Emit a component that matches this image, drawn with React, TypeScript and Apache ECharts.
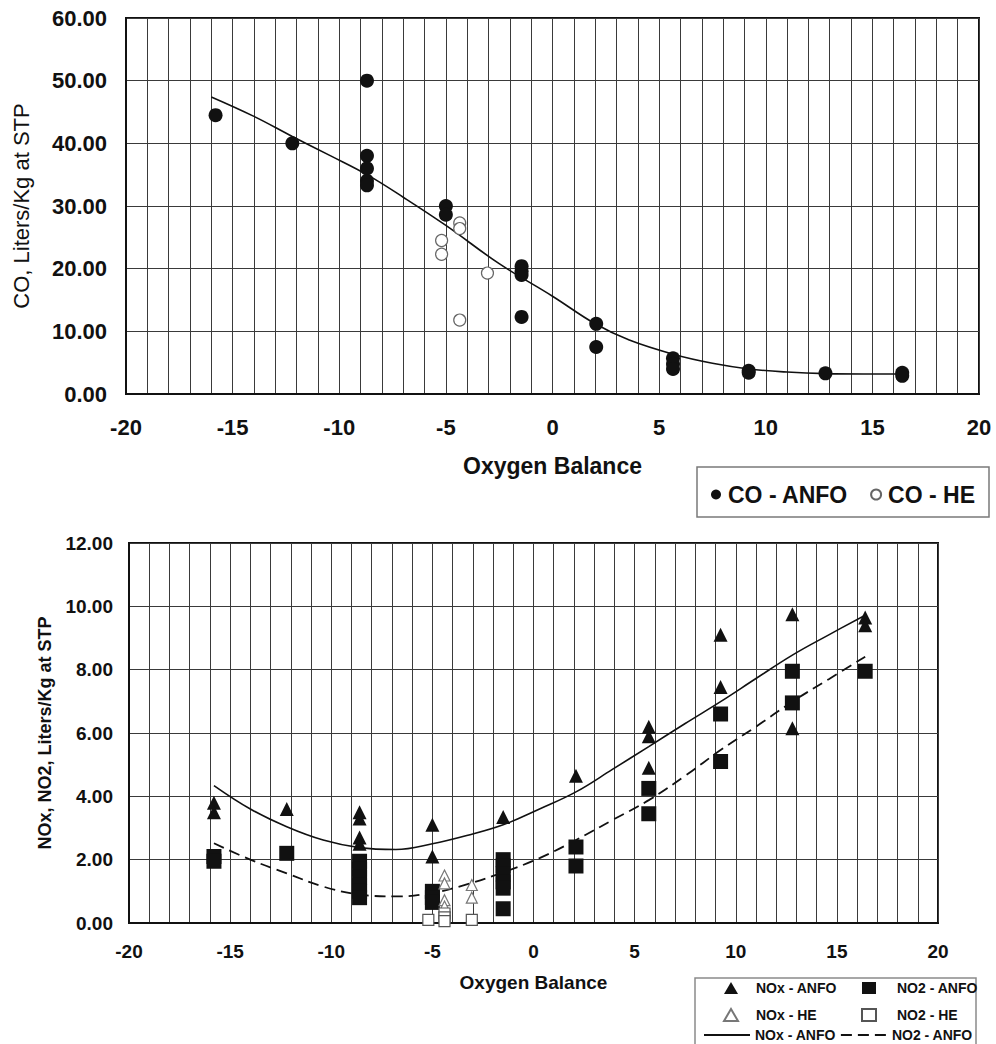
import React, { useEffect, useRef } from "react";
import * as echarts from "echarts";

// ---------- Data ----------
// Top chart: CO, Liters/Kg at STP vs Oxygen Balance
const coAnfo: [number, number][] = [
  [-15.8, 44.5],
  [-12.2, 40.0],
  [-8.7, 50.0],
  [-8.7, 38.0],
  [-8.7, 36.0],
  [-8.7, 34.0],
  [-8.7, 33.3],
  [-5.0, 30.0],
  [-5.0, 28.6],
  [-1.45, 20.4],
  [-1.45, 19.6],
  [-1.45, 19.0],
  [-1.45, 12.3],
  [2.05, 11.2],
  [2.05, 7.5],
  [5.65, 5.7],
  [5.65, 4.8],
  [5.65, 4.0],
  [9.2, 3.7],
  [9.2, 3.4],
  [12.8, 3.3],
  [16.4, 3.4],
  [16.4, 2.9],
];
const coHe: [number, number][] = [
  [-5.2, 24.5],
  [-5.2, 22.3],
  [-4.35, 27.3],
  [-4.35, 26.4],
  [-4.35, 11.8],
  [-3.05, 19.3],
];
const coFit: [number, number][] = [
  [-16, 47.4],
  [-14, 44.3],
  [-12.2, 41.1],
  [-10.4, 38.0],
  [-8.7, 35.0],
  [-7, 31.4],
  [-5, 26.9],
  [-2.5, 20.8],
  [0, 15.6],
  [2, 11.2],
  [3.6, 8.6],
  [5.7, 6.3],
  [7.5, 4.9],
  [9.2, 4.0],
  [11, 3.5],
  [12.8, 3.25],
  [14.6, 3.2],
  [16.4, 3.2],
];

// Bottom chart: NOx, NO2, Liters/Kg at STP vs Oxygen Balance
const noxAnfo: [number, number][] = [
  [-15.8, 3.8],
  [-15.8, 3.5],
  [-12.2, 3.6],
  [-8.6, 3.5],
  [-8.6, 3.3],
  [-8.6, 2.7],
  [-8.6, 2.5],
  [-5.0, 3.1],
  [-5.0, 2.1],
  [-1.5, 3.35],
  [2.1, 4.65],
  [5.7, 6.2],
  [5.7, 5.9],
  [5.7, 4.9],
  [9.25, 9.1],
  [9.25, 7.45],
  [12.8, 9.75],
  [12.8, 6.15],
  [16.4, 9.65],
  [16.4, 9.4],
];
const no2Anfo: [number, number][] = [
  [-15.8, 2.1],
  [-15.8, 1.95],
  [-12.2, 2.2],
  [-8.6, 1.95],
  [-8.6, 1.7],
  [-8.6, 1.45],
  [-8.6, 1.2],
  [-8.6, 1.0],
  [-8.6, 0.8],
  [-5.0, 1.0],
  [-5.0, 0.8],
  [-5.0, 0.65],
  [-1.5, 2.0],
  [-1.5, 1.8],
  [-1.5, 1.55],
  [-1.5, 1.3],
  [-1.5, 1.1],
  [-1.5, 0.45],
  [2.1, 2.4],
  [2.1, 1.8],
  [5.7, 4.25],
  [5.7, 3.45],
  [9.25, 6.6],
  [9.25, 5.1],
  [12.8, 7.95],
  [12.8, 6.95],
  [16.4, 7.95],
];
const noxHe: [number, number][] = [
  [-4.4, 1.5],
  [-4.4, 1.25],
  [-4.4, 0.72],
  [-4.4, 0.52],
  [-3.05, 1.2],
  [-3.05, 0.8],
];
const no2He: [number, number][] = [
  [-5.2, 0.1],
  [-4.4, 0.3],
  [-4.4, 0.18],
  [-4.4, 0.06],
  [-3.05, 0.1],
];
const noxFit: [number, number][] = [
  [-15.8, 4.34],
  [-14, 3.6],
  [-12.2, 3.04],
  [-10.4, 2.62],
  [-8.6, 2.38],
  [-6.8, 2.32],
  [-5, 2.5],
  [-3.3, 2.76],
  [-1.5, 3.1],
  [0.3, 3.6],
  [2.1, 4.14],
  [3.9, 4.85],
  [5.7, 5.57],
  [7.5, 6.3],
  [9.25, 6.99],
  [11, 7.72],
  [12.8, 8.46],
  [14.6, 9.1],
  [16.4, 9.72],
];
const no2Fit: [number, number][] = [
  [-15.8, 2.52],
  [-14, 2.0],
  [-12.2, 1.57],
  [-10.4, 1.15],
  [-8.6, 0.9],
  [-6.8, 0.84],
  [-5, 0.95],
  [-3.3, 1.22],
  [-1.5, 1.6],
  [0.3, 2.05],
  [2.1, 2.62],
  [3.9, 3.25],
  [5.7, 3.88],
  [7.5, 4.65],
  [9.25, 5.46],
  [11, 6.2],
  [12.8, 6.99],
  [14.6, 7.7],
  [16.4, 8.41],
];

const xRange = { min: -20, max: 20, major: 5 };
const coRange = { min: 0, max: 60, step: 10 };
const noRange = { min: 0, max: 12, step: 2 };

const FONT = "'Liberation Sans', Arial, Helvetica, sans-serif";
const INK = "#111";
const GRIDC = "#3a3a3a";

function xAxisCfg(gridIndex: number, fontSize: number, margin: number, nameSize: number, nameGap: number) {
  return {
    type: "value",
    gridIndex,
    min: xRange.min,
    max: xRange.max,
    interval: xRange.major,
    name: "Oxygen Balance",
    nameLocation: "middle",
    nameGap,
    nameTextStyle: { fontFamily: FONT, fontSize: nameSize, fontWeight: "bold", color: INK },
    axisLine: { show: true, onZero: false, lineStyle: { color: INK, width: 2 } },
    axisTick: { show: false },
    minorTick: { show: false, splitNumber: 5 },
    splitLine: { show: true, lineStyle: { color: GRIDC, width: 1 } },
    minorSplitLine: { show: true, lineStyle: { color: GRIDC, width: 1 } },
    axisLabel: { fontFamily: FONT, fontSize, fontWeight: "bold", color: INK, margin },
  };
}

function yAxisCfg(
  gridIndex: number,
  r: { min: number; max: number; step: number },
  name: string,
  fontSize: number,
  margin: number,
  nameSize: number,
  nameWeight: string,
  nameGap: number
) {
  return {
    type: "value",
    gridIndex,
    min: r.min,
    max: r.max,
    interval: r.step,
    name,
    nameLocation: "middle",
    nameGap,
    nameTextStyle: { fontFamily: FONT, fontSize: nameSize, fontWeight: nameWeight, color: INK },
    axisLine: { show: true, onZero: false, lineStyle: { color: INK, width: 2 } },
    axisTick: { show: false },
    splitLine: { show: true, lineStyle: { color: GRIDC, width: 1 } },
    axisLabel: {
      fontFamily: FONT,
      fontSize,
      fontWeight: "bold",
      color: INK,
      margin,
      formatter: (v: number) => v.toFixed(2),
    },
  };
}

const smallLegendText = { fontFamily: FONT, fontSize: 14, fontWeight: "bold", color: INK };

export default function App() {
  const ref = useRef<HTMLDivElement>(null);

  useEffect(() => {
    if (!ref.current) return;
    const chart = echarts.init(ref.current, undefined, { renderer: "svg" });

    const option: any = {
      animation: false,
      backgroundColor: "#fff",
      grid: [
        { left: 126, top: 18, width: 853, height: 376, show: true, borderColor: INK, borderWidth: 2, backgroundColor: "#fff" },
        { left: 129, top: 543, width: 809, height: 380, show: true, borderColor: INK, borderWidth: 2, backgroundColor: "#fff" },
      ],
      xAxis: [xAxisCfg(0, 22, 22, 23, 60), xAxisCfg(1, 19, 19, 19, 50)],
      yAxis: [
        yAxisCfg(0, coRange, "CO, Liters/Kg at STP", 22, 19, 22, "normal", 94),
        yAxisCfg(1, noRange, "NOx, NO2, Liters/Kg at STP", 19, 16, 18, "bold", 75),
      ],
      graphic: [
        {
          type: "rect",
          z: 1,
          shape: { x: 697, y: 467, width: 292, height: 50 },
          style: { fill: "#fff", stroke: "#7a7a7a", lineWidth: 1.5 },
        },
        {
          type: "rect",
          z: 1,
          shape: { x: 695, y: 978, width: 281, height: 80 },
          style: { fill: "#fff", stroke: "#8a8a8a", lineWidth: 1.5 },
        },
      ],
      legend: [
        {
          data: ["CO - ANFO", "CO - HE"],
          left: 706,
          top: 478,
          orient: "horizontal",
          itemWidth: 14,
          itemHeight: 10,
          itemGap: 22,
          selectedMode: false,
          textStyle: { fontFamily: FONT, fontSize: 23, fontWeight: "bold", color: INK },
        },
        {
          data: ["NOx - ANFO", "NOx - HE"],
          left: 718,
          top: 976,
          orient: "vertical",
          itemWidth: 14,
          itemHeight: 12,
          itemGap: 13,
          selectedMode: false,
          textStyle: { ...smallLegendText, padding: [0, 0, 0, 13] },
        },
        {
          data: ["NO2 - ANFO", "NO2 - HE"],
          left: 856,
          top: 976,
          orient: "vertical",
          itemWidth: 14,
          itemHeight: 12,
          itemGap: 13,
          selectedMode: false,
          textStyle: { ...smallLegendText, padding: [0, 0, 0, 16] },
        },
        {
          data: ["NOx - ANFO fit", "NO2 - ANFO fit"],
          left: 698,
          top: 1023,
          orient: "horizontal",
          itemWidth: 46,
          itemHeight: 12,
          itemGap: 4,
          selectedMode: false,
          itemStyle: { color: "rgba(0,0,0,0)", borderWidth: 0, opacity: 0 },
          formatter: (n: string) => n.replace(" fit", ""),
          textStyle: smallLegendText,
        },
      ],
      series: [
        {
          name: "CO fit",
          type: "line",
          xAxisIndex: 0,
          yAxisIndex: 0,
          data: coFit,
          smooth: 0.4,
          symbol: "none",
          lineStyle: { color: INK, width: 1.6 },
          z: 2,
        },
        {
          name: "CO - ANFO",
          type: "scatter",
          xAxisIndex: 0,
          yAxisIndex: 0,
          data: coAnfo,
          symbol: "circle",
          symbolSize: 14,
          itemStyle: { color: INK, opacity: 1 },
          z: 3,
        },
        {
          name: "CO - HE",
          type: "scatter",
          xAxisIndex: 0,
          yAxisIndex: 0,
          data: coHe,
          symbol: "circle",
          symbolSize: 12,
          itemStyle: { color: "#fff", borderColor: "#666", borderWidth: 1.2, opacity: 1 },
          z: 3,
        },
        {
          name: "NOx - ANFO fit",
          type: "line",
          xAxisIndex: 1,
          yAxisIndex: 1,
          data: noxFit,
          smooth: 0.4,
          symbol: "none",
          itemStyle: { color: INK },
          lineStyle: { color: INK, width: 1.6 },
          z: 2,
        },
        {
          name: "NO2 - ANFO fit",
          type: "line",
          xAxisIndex: 1,
          yAxisIndex: 1,
          data: no2Fit,
          smooth: 0.4,
          symbol: "none",
          itemStyle: { color: INK },
          lineStyle: { color: INK, width: 1.8, type: [11, 6] },
          z: 2,
        },
        {
          name: "NOx - ANFO",
          type: "scatter",
          xAxisIndex: 1,
          yAxisIndex: 1,
          data: noxAnfo,
          symbol: "triangle",
          symbolSize: 14,
          itemStyle: { color: INK, opacity: 1 },
          z: 3,
        },
        {
          name: "NO2 - ANFO",
          type: "scatter",
          xAxisIndex: 1,
          yAxisIndex: 1,
          data: no2Anfo,
          symbol: "rect",
          symbolSize: 15,
          itemStyle: { color: INK, opacity: 1 },
          z: 3,
        },
        {
          name: "NOx - HE",
          type: "scatter",
          xAxisIndex: 1,
          yAxisIndex: 1,
          data: noxHe,
          symbol: "triangle",
          symbolSize: 11,
          itemStyle: { color: "#fff", borderColor: "#777", borderWidth: 1.2, opacity: 1 },
          z: 3,
        },
        {
          name: "NO2 - HE",
          type: "scatter",
          xAxisIndex: 1,
          yAxisIndex: 1,
          data: no2He,
          symbol: "rect",
          symbolSize: 11,
          itemStyle: { color: "#fff", borderColor: "#555", borderWidth: 1.2, opacity: 1 },
          z: 3,
        },
      ],
    };

    chart.setOption(option);
    return () => chart.dispose();
  }, []);

  return (
    <div
      ref={ref}
      style={{ position: "absolute", left: 0, top: 0, width: 996, height: 1044, background: "#fff" }}
    />
  );
}
